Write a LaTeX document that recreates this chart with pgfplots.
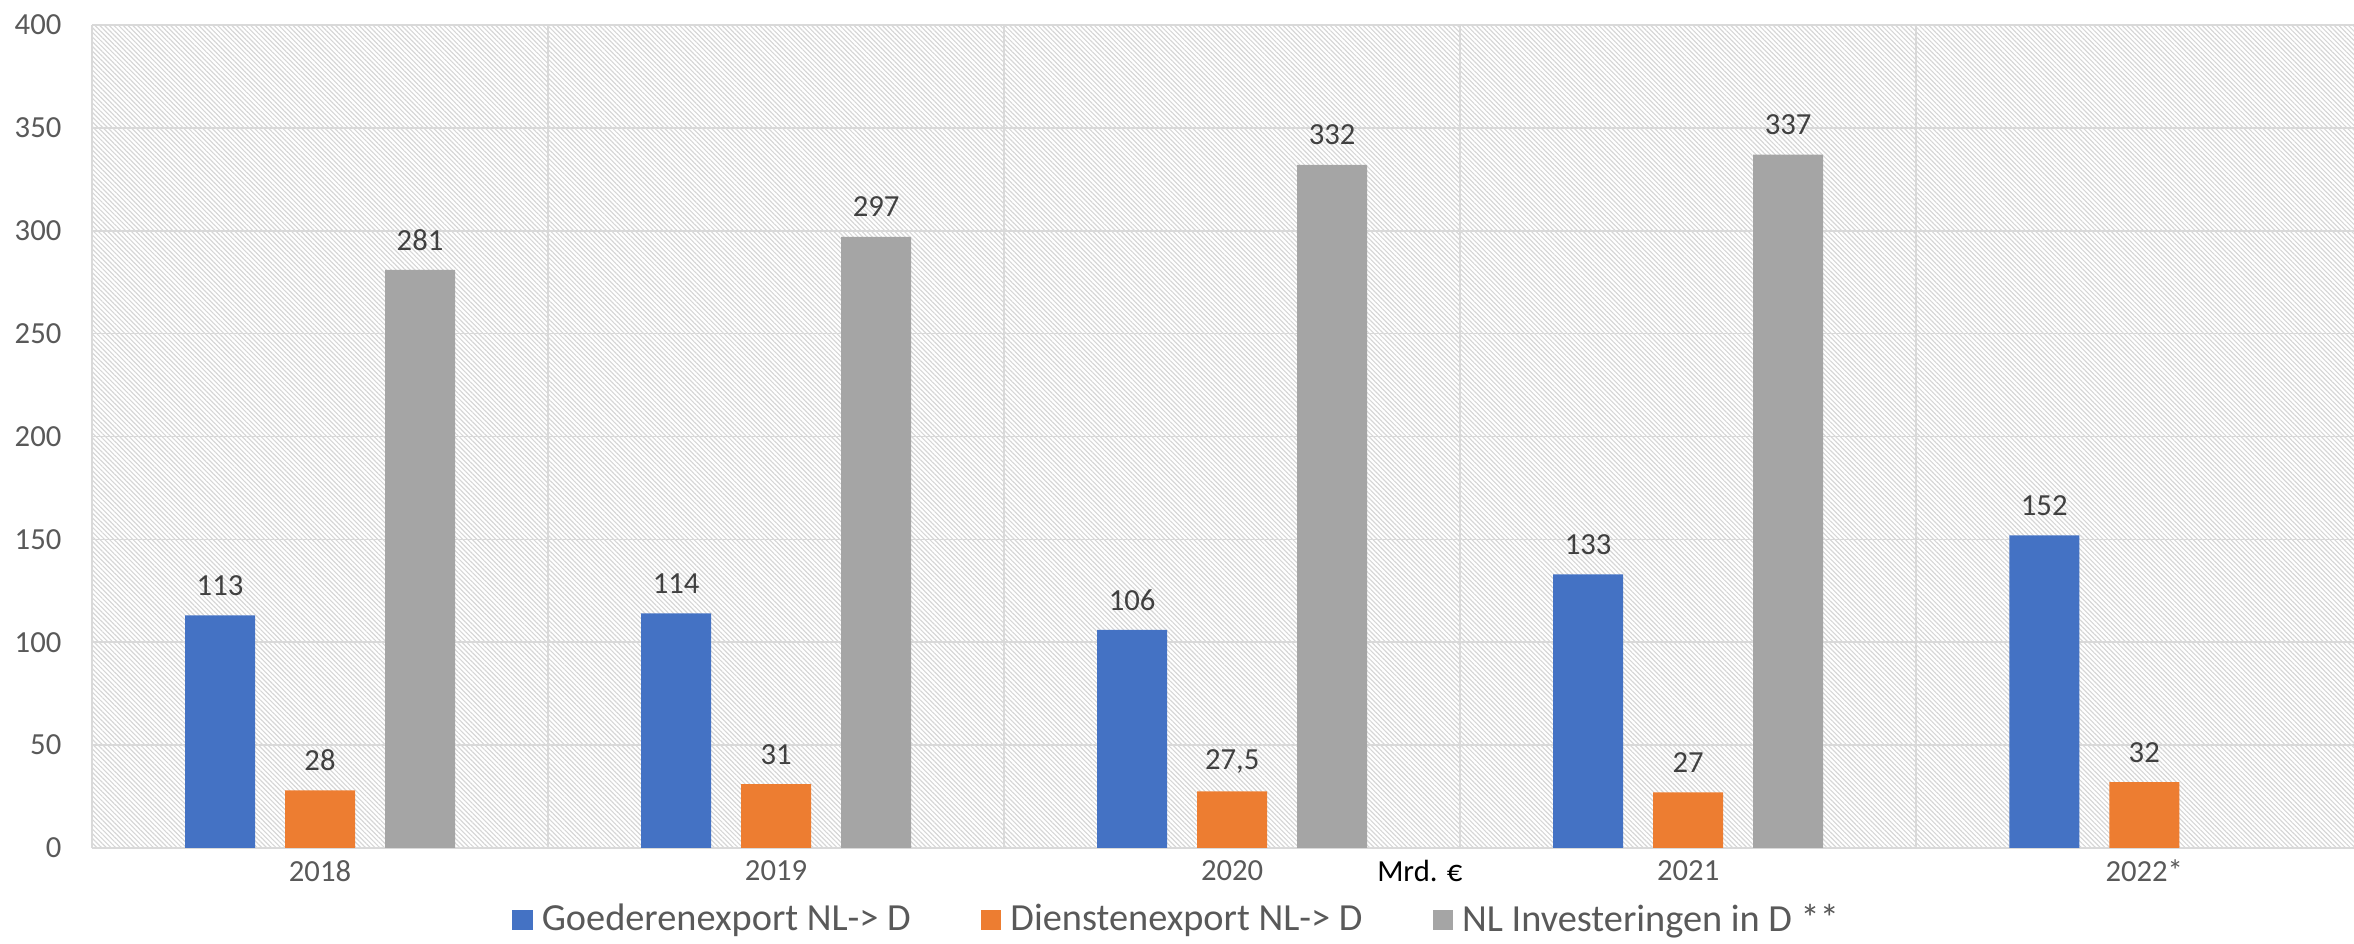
\documentclass[border=0pt]{standalone}
\usepackage{fontspec}
\setmainfont{Carlito}
\usepackage{pgfplots}
\pgfplotsset{compat=1.18}
\usetikzlibrary{patterns.meta}
\definecolor{cblue}{HTML}{4472C4}
\definecolor{corange}{HTML}{ED7D31}
\definecolor{cgray}{HTML}{A5A5A5}
\definecolor{gridc}{HTML}{D9D9D9}
\definecolor{ticktext}{HTML}{595959}
\definecolor{labeltext}{HTML}{404040}
\definecolor{hatch}{HTML}{D6D6D6}
\begin{document}
\begin{tikzpicture}
\useasboundingbox (-27.6pt,-28.8pt) rectangle (678.6pt,254.4pt);
\begin{axis}[
  at={(0pt,0pt)}, anchor=south west, scale only axis, clip=false,
  width=678.6pt, height=246.9pt,
  ybar, bar width=21pt, ybar=9pt,
  xmin=-0.5, xmax=4.46, ymin=0, ymax=400,
  xtick={0,1,2,3,4}, xticklabels={2018,2019,2020,2021,2022*},
  ytick={0,50,...,400},
  ymajorgrids, grid style={gridc, line width=0.5pt},
  minor xtick={0.5,1.5,2.5,3.5}, xminorgrids, minor grid style={gridc, line width=0.5pt},
  major tick length=0pt, minor tick length=0pt,
  axis x line*=bottom, axis y line*=left,
  axis line style={gridc, line width=0.6pt, -},
  axis background/.style={pattern={Lines[angle=-45,distance=1.0pt,line width=0.35pt]}, pattern color=hatch},
  /pgf/number format/use comma,
  /pgf/number format/1000 sep={},
  /pgf/number format/assume math mode=true,
  nodes near coords={\pgfmathprintnumber{\pgfplotspointmeta}},
  nodes near coords style={font=\fontsize{9.2}{11}\selectfont, text=labeltext, anchor=center, yshift=9pt},
  ticklabel style={font=\fontsize{9.2}{11}\selectfont, text=ticktext},
  yticklabel style={inner sep=0pt, anchor=east, xshift=-9pt},
  xticklabel style={inner sep=0pt, anchor=center, yshift=-6.9pt},
  legend columns=3,
  legend style={draw=none, fill=none, at={(0.479,-0.0875)}, anchor=center,
    font=\fontsize{11.5}{13}\selectfont, text=ticktext,
    /tikz/every even column/.append style={column sep=21pt},
    nodes={inner sep=0pt, outer sep=0pt}},
  legend image code/.code={\fill[#1] (0pt,-3.1pt) rectangle (6.2pt,3.1pt); \path (8.9pt,0pt);},
]
\addplot[fill=cblue, draw=none] coordinates {(0,113) (1,114) (2,106) (3,133) (4,152)};
\addplot[fill=corange, draw=none] coordinates {(0,28) (1,31) (2,27.5) (3,27) (4,32)};
\addplot[fill=cgray, draw=none] coordinates {(0,281) (1,297) (2,332) (3,337)};
\legend{Goederenexport NL-> D, Dienstenexport NL-> D, NL Investeringen in D **}
\node[font=\fontsize{9.2}{11}\selectfont, text=black, inner sep=0pt] at (rel axis cs:0.587,-0.028) {Mrd. €};
\end{axis}
\end{tikzpicture}
\end{document}
